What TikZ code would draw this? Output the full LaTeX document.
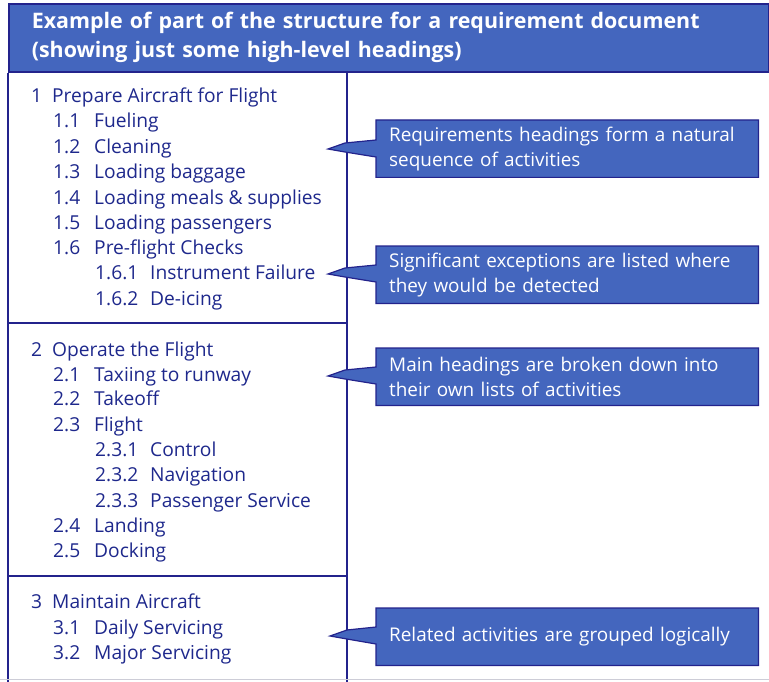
\documentclass[tikz,border=0pt]{standalone}
\usepackage{fontspec}
\setmainfont{Open Sans}
\usetikzlibrary{calc}
\definecolor{navy}{RGB}{35,35,140}
\definecolor{txt}{RGB}{30,40,140}
\definecolor{cblue}{RGB}{68,102,190}
\definecolor{lgray}{RGB}{205,205,215}
\newcommand{\nA}[1]{\makebox[21pt][l]{#1}}
\newcommand{\nB}[1]{\makebox[41pt][l]{#1}}
\newcommand{\nC}[1]{\makebox[55pt][l]{#1}}
\begin{document}
\begin{tikzpicture}[x=1pt,y=-1pt,
  item/.style={anchor=mid west, inner sep=0pt, text=txt, font=\fontsize{19.2}{22}\selectfont},
  cbox/.style={anchor=north west, minimum width=376pt, minimum height=57pt, text width=356pt,
    inner xsep=13pt, inner ysep=0pt, align=left, text=white, font=\fontsize{18.9}{25}\selectfont},
  cline/.style={draw=navy, fill=cblue, line width=1.2pt, line join=miter},
  frame/.style={draw=navy, line width=1.2pt}]
\useasboundingbox (0,0) rectangle (769,682);
\clip (0,0) rectangle (769,682);
% header
\node[anchor=north west, minimum width=760pt, minimum height=68pt, fill=cblue, draw=navy, line width=1.6pt,
  text width=720pt, inner xsep=20pt, inner ysep=0pt, align=left, text=white,
  font=\bfseries\fontsize{21.4}{29}\selectfont] (hdr) at (8,3)
  {\hspace*{3pt}Example of part of the structure for a requirement document\\\hspace*{3pt}(showing just some high-level headings)};
% left column
\draw[frame] (hdr.south west) -- (8,700);
\draw[frame] (347,71) -- (347,700);
\draw[frame] (8,323) -- (347,323);
\draw[frame] (8,576) -- (347,576);
\draw[draw=lgray, line width=1pt] (0,679) -- (769,679);
% section 1
\node[item] (s1)   at (31,100) {\nA{1}Prepare Aircraft for Flight};
\node[item] (s11)  at (53,125) {\nB{1.1}Fueling};
\node[item] (s12)  at (53,151) {\nB{1.2}Cleaning};
\node[item] (s13)  at (53,176) {\nB{1.3}Loading baggage};
\node[item] (s14)  at (53,202) {\nB{1.4}Loading meals \& supplies};
\node[item] (s15)  at (53,227) {\nB{1.5}Loading passengers};
\node[item] (s16)  at (53,252) {\nB{1.6}Pre-flight Checks};
\node[item] (s161) at (95,277) {\nC{1.6.1}Instrument Failure};
\node[item] (s162) at (95,303) {\nC{1.6.2}De-icing};
% section 2
\node[item] (s2)   at (31,354) {\nA{2}Operate the Flight};
\node[item] (s21)  at (53,379) {\nB{2.1}Taxiing to runway};
\node[item] (s22)  at (53,403) {\nB{2.2}Takeoff};
\node[item] (s23)  at (53,429) {\nB{2.3}Flight};
\node[item] (s231) at (95,454) {\nC{2.3.1}Control};
\node[item] (s232) at (95,479) {\nC{2.3.2}Navigation};
\node[item] (s233) at (95,505) {\nC{2.3.3}Passenger Service};
\node[item] (s24)  at (53,530) {\nB{2.4}Landing};
\node[item] (s25)  at (53,555) {\nB{2.5}Docking};
% section 3
\node[item] (s3)   at (31,606) {\nA{3}Maintain Aircraft};
\node[item] (s31)  at (53,632) {\nB{3.1}Daily Servicing};
\node[item] (s32)  at (53,657) {\nB{3.2}Major Servicing};
% callouts
\coordinate (t1) at (328,149);
\coordinate (t2) at (328,274);
\coordinate (t3) at (328,376);
\coordinate (t4) at (330,636);
\node[cbox] (c1) at (376,120) {Requirements headings form a natural\\sequence of activities};
\node[cbox] (c2) at (376,246) {Significant exceptions are listed where\\they would be detected};
\node[cbox] (c3) at (376,348) {Main headings are broken down into\\their own lists of activities};
\node[cbox] (c4) at (376,608) {Related activities are grouped logically};
\foreach \c/\t in {c1/t1,c2/t2,c3/t3,c4/t4}{
  \path[cline] (\c.north west) -- (\c.north east) -- (\c.south east) -- (\c.south west)
    -- ($(\c.west|-\t)+(0,8)$) -- ($(\t)+(17,3)$) -- (\t) -- ($(\t)+(17,-6)$)
    -- ($(\c.west|-\t)+(0,-9)$) -- cycle;
}
\node[cbox] at (c1.north west) {Requirements headings form a natural\\sequence of activities};
\node[cbox] at (c2.north west) {Significant exceptions are listed where\\they would be detected};
\node[cbox] at (c3.north west) {Main headings are broken down into\\their own lists of activities};
\node[cbox] at (c4.north west) {Related activities are grouped logically};
\end{tikzpicture}
\end{document}
